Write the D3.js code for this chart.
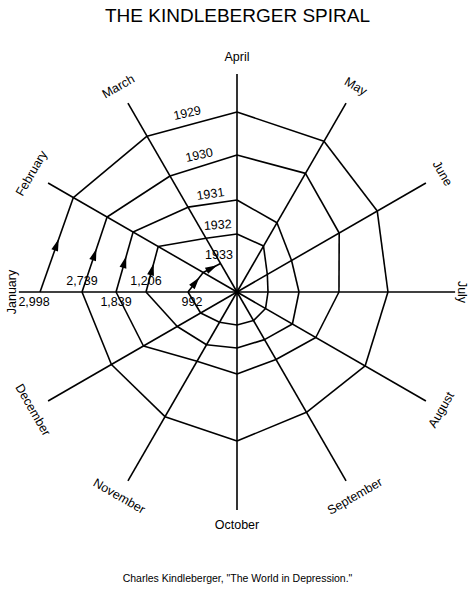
<!DOCTYPE html>
<html>
<head>
<meta charset="utf-8">
<script src="https://cdn.jsdelivr.net/npm/d3@7"></script>
<style>
  body { margin: 0; background: #fff; }
  text { font-family: "Liberation Sans", Arial, sans-serif; fill: #000; }
</style>
</head>
<body>
<script>
var months = ['January', 'February', 'March', 'April', 'May', 'June',
              'July', 'August', 'September', 'October', 'November', 'December'];
var years = [1929, 1930, 1931, 1932, 1933];
// world imports, millions of gold dollars
var v1929 = [2998, 2876, 2739, 2739, 2648, 2465, 2298, 2252, 2115, 2268, 2191, 2207];
var v1930 = [2359, 2283, 2039, 2085, 2085, 1796, 1552, 1385, 1187, 1248, 1217, 1644];
var v1931 = [1841, 1826, 1491, 1400, 1217, 959, 944, 974, 837, 852, 928, 1050];
var v1932 = [1385, 1385, 944, 883, 807, 533, 472, 502, 502, 502, 533, 639];
var v1933 = [746, 594, 502];
var janLabels = ['2,998', '2,739', '1,839', '1,206', '992'];

var width = 475, height = 590, cx = 237, cy = 292;

var svg = d3.select('body').append('svg')
    .attr('width', width)
    .attr('height', height);

var r = d3.scaleLinear().domain([0, 3000]).range([0, 197.1]);
var angle = d3.scaleLinear().domain([0, 12]).range([-Math.PI / 2, 1.5 * Math.PI]);

function pt(m, v) {
    var a = angle(m);
    return [cx + r(v) * Math.sin(a), cy - r(v) * Math.cos(a)];
}

var g = svg.append('g');

// Spokes
g.selectAll('line.spoke')
    .data(months)
    .enter().append('line')
    .attr('x1', cx).attr('y1', cy)
    .attr('x2', function(d, i){ return pt(i, 3320)[0]; })
    .attr('y2', function(d, i){ return pt(i, 3320)[1]; })
    .attr('stroke', '#000')
    .attr('stroke-width', 1.6);

g.append('circle').attr('cx', cx).attr('cy', cy).attr('r', 2.5);

// Month labels, rotated along the circle
g.selectAll('text.month')
    .data(months)
    .enter().append('text')
    .attr('text-anchor', 'middle')
    .attr('dominant-baseline', 'middle')
    .attr('font-size', 12.5)
    .attr('transform', function(d, i){
        var rv = (i == 0 || i == 6) ? 3420 : (i == 3 || i == 9 ? 3560 : 3600);
        var p = pt(i, rv),
            rot = (angle(i) * 180 / Math.PI);
        if (i > 6 && i < 12) rot -= 180;
        if (i == 0) rot = -90;
        if (i == 6) rot = 90;
        return 'translate(' + p[0] + ',' + p[1] + ') rotate(' + rot + ')';
    })
    .text(function(d){ return d; });

// Spiral: each year, then to January of next year
var series = [v1929, v1930, v1931, v1932, v1933];
var pts = [];
series.forEach(function(s, y){
    s.forEach(function(v, m){ pts.push({y: y, m: m, v: v}); });
});

var arrowSegs = [];
for (var i = 0; i < pts.length - 1; i++) {
    var a = pts[i], b = pts[i + 1];
    var p1 = pt(a.m, a.v), p2 = pt(b.m, b.v);
    var isArrow = (a.m == 0) || (a.y == 4 && a.m == 1);
    g.append('line')
        .attr('x1', p1[0]).attr('y1', p1[1])
        .attr('x2', p2[0]).attr('y2', p2[1])
        .attr('stroke', '#000')
        .attr('stroke-width', 1.6);
    if (isArrow) arrowSegs.push([p1, p2]);
}

// Arrowheads in the middle of the January->February legs
g.selectAll('path.arrow')
    .data(arrowSegs)
    .enter().append('path')
    .attr('d', 'M6,0 L-6,-3.5 L-6,3.5 Z')
    .attr('transform', function(d){
        var mx = (d[0][0] + d[1][0]) / 2, my = (d[0][1] + d[1][1]) / 2;
        var rot = Math.atan2(d[1][1] - d[0][1], d[1][0] - d[0][0]) * 180 / Math.PI;
        return 'translate(' + mx + ',' + my + ') rotate(' + rot + ')';
    });

// January value labels, alternating below / above the axis
g.selectAll('text.jan')
    .data(janLabels)
    .enter().append('text')
    .attr('font-size', 12.5)
    .attr('text-anchor', 'middle')
    .attr('x', function(d, i){ return pt(0, series[i][0])[0] - (i == 0 ? 6 : 0) + (i == 4 ? 4 : 0); })
    .attr('y', function(d, i){ return i % 2 == 0 ? cy + 14 : cy - 7; })
    .text(function(d){ return d; });

// Year labels on the April spoke
var yearPos = [[188, 117, -12], [200, 159, -12], [211, 198, -8], [218, 229, -4], [219, 259, 0]];
g.selectAll('text.year')
    .data(years)
    .enter().append('text')
    .attr('font-size', 12.5)
    .attr('text-anchor', 'middle')
    .attr('transform', function(d, i){
        return 'translate(' + yearPos[i][0] + ',' + yearPos[i][1] + ') rotate(' + yearPos[i][2] + ')';
    })
    .text(function(d){ return d; });

svg.append('text')
    .attr('x', width / 2).attr('y', 22)
    .attr('text-anchor', 'middle')
    .attr('font-size', 19)
    .text('THE KINDLEBERGER SPIRAL');

svg.append('text')
    .attr('x', width / 2).attr('y', 582)
    .attr('text-anchor', 'middle')
    .attr('font-size', 10.5)
    .text('Charles Kindleberger, "The World in Depression."');
</script>
</body>
</html>
